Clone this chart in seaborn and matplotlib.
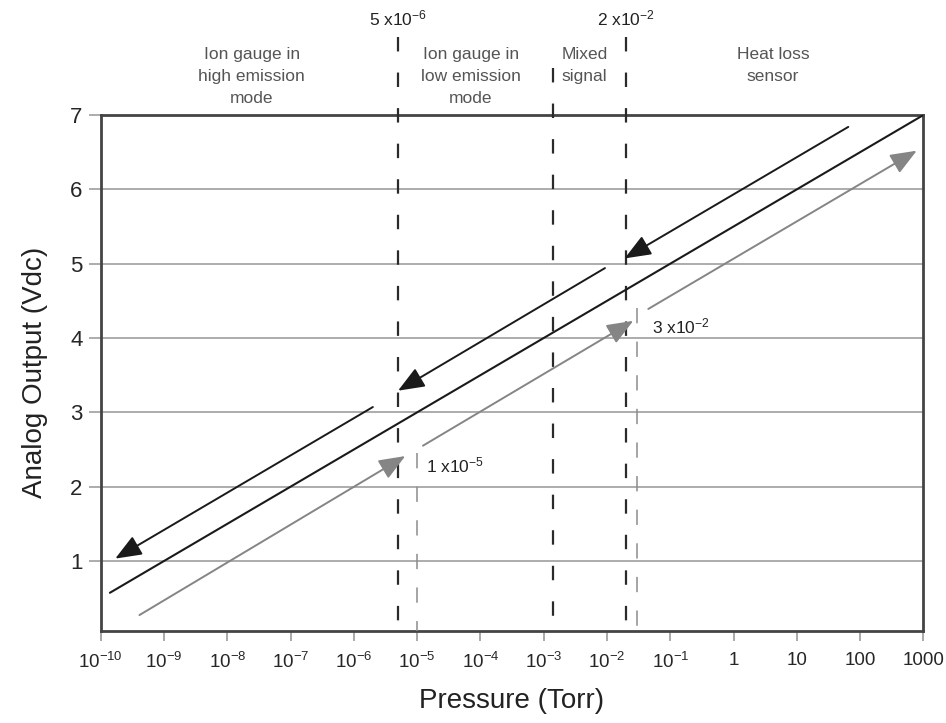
import numpy as np
import pandas as pd
import matplotlib
matplotlib.use("Agg")
import matplotlib.pyplot as plt
import seaborn as sns

# Decade ticks on the pressure axis
tick_pressures = [1e-10, 1e-9, 1e-8, 1e-7, 1e-6, 1e-5, 1e-4, 1e-3, 1e-2, 1e-1, 1, 10, 100, 1000]
tick_labels = ["$10^{-10}$", "$10^{-9}$", "$10^{-8}$", "$10^{-7}$", "$10^{-6}$", "$10^{-5}$",
               "$10^{-4}$", "$10^{-3}$", "$10^{-2}$", "$10^{-1}$", "1", "10", "100", "1000"]
voltage_ticks = [1, 2, 3, 4, 5, 6, 7]

# Nominal output curve (0.5 V per decade)
nominal_p = [1.4e-10, 1000.0]
nominal_v = [0.57, 7.0]

# Decreasing-pressure path (black, arrows pointing down)
down_start_p = [65.0, 9.3e-3, 2.0e-6]
down_start_v = [6.84, 4.94, 3.07]
down_end_p = [1.9e-2, 5.0e-6, 1.7e-10]
down_end_v = [5.07, 3.29, 1.03]

# Increasing-pressure path (gray, arrows pointing up)
up_start_p = [4.1e-10, 1.24e-5, 4.5e-2]
up_start_v = [0.27, 2.55, 4.39]
up_end_p = [6.5e-6, 2.6e-2, 785.0]
up_end_v = [2.41, 4.23, 6.52]

# Switch-over pressures
switch_p = [5e-6, 1.4e-3, 2e-2]
switch_top_v = [8.05, 7.63, 8.05]
switch_labels = {5e-6: "5 x10$^{-6}$", 2e-2: "2 x10$^{-2}$"}
return_p = [1e-5, 3e-2]
return_top_v = [2.45, 4.4]
return_labels = ["1 x10$^{-5}$", "3 x10$^{-2}$"]
return_label_v = [2.29, 4.15]
return_label_gap = [1.39, 1.72]

# Operating regions
region_names = ["Ion gauge in\nhigh emission\nmode", "Ion gauge in\nlow emission\nmode",
                "Mixed\nsignal", "Heat loss\nsensor"]
region_p = [2.45e-8, 7.1e-5, 4.4e-3, 4.2]

sns.set_theme(style="white")
plt.rcParams["font.family"] = ["Liberation Sans", "DejaVu Sans"]
plt.rcParams["mathtext.fontset"] = "custom"
plt.rcParams["mathtext.rm"] = "Liberation Sans"
plt.rcParams["mathtext.it"] = "Liberation Sans:italic"
plt.rcParams["mathtext.bf"] = "Liberation Sans:bold"

fig = plt.figure(figsize=(9.46, 7.23), dpi=100)
ax = fig.add_axes([0.1064, 0.1277, 0.8697, 0.7132])

ax.set_xscale("log")
ax.set_xlim(1e-10, 1000)
ax.set_ylim(0.06, 7)

# horizontal grid
for v in voltage_ticks[:-1]:
    ax.axhline(v, color="#a6a6a6", lw=1.3, zorder=1)

nominal = pd.DataFrame({"pressure": nominal_p, "voltage": nominal_v})
sns.lineplot(data=nominal, x="pressure", y="voltage", ax=ax, color="#1a1a1a", lw=1.5, zorder=4)

dark = "#1a1a1a"
grey = "#858585"
head = "-|>,head_length=0.85,head_width=0.34"
for sp, sv, ep, ev in zip(down_start_p, down_start_v, down_end_p, down_end_v):
    ax.annotate("", xy=(ep, ev), xytext=(sp, sv),
                arrowprops=dict(arrowstyle=head, mutation_scale=19, color=dark, lw=1.4,
                                shrinkA=0, shrinkB=0), zorder=5)
for sp, sv, ep, ev in zip(up_start_p, up_start_v, up_end_p, up_end_v):
    ax.annotate("", xy=(ep, ev), xytext=(sp, sv),
                arrowprops=dict(arrowstyle=head, mutation_scale=19, color=grey, lw=1.4,
                                shrinkA=0, shrinkB=0), zorder=5)

# dashed switch-over lines, drawn top-down so a dash starts at the upper end
for p, top in zip(switch_p, switch_top_v):
    ax.plot([p, p], [top, 0.06], color="#2a2a2a", lw=1.6, dashes=(6.5, 9.5),
            clip_on=False, zorder=3)
    if p in switch_labels:
        ax.text(p, 8.3, switch_labels[p], ha="center", va="center",
                fontsize=12.5, color="#222222", clip_on=False)
for p, top, lab, lv, gap in zip(return_p, return_top_v, return_labels,
                                return_label_v, return_label_gap):
    ax.plot([p, p], [top, 0.06], color="#8c8c8c", lw=1.1, dashes=(10, 12),
            clip_on=False, zorder=3)
    ax.text(p * gap, lv, lab, ha="left", va="center",
            fontsize=12.5, color="#222222")

for name, p in zip(region_names, region_p):
    ax.text(p, 7.91, name, ha="center", va="top", fontsize=12.5,
            color="#555555", linespacing=1.55, clip_on=False)

ax.set_xticks(tick_pressures)
ax.set_xticklabels(tick_labels)
ax.xaxis.set_minor_locator(matplotlib.ticker.NullLocator())
ax.set_yticks(voltage_ticks)
ax.tick_params(axis="x", direction="out", length=7, width=1.2, color="#9a9a9a",
               labelsize=13.5, pad=8, bottom=True)
ax.tick_params(axis="y", direction="out", length=9, width=1.3, color="#a6a6a6",
               labelsize=16, pad=4, left=True)

for s in ax.spines.values():
    s.set_color("#444444")
    s.set_linewidth(2.0)
    s.set_visible(True)

ax.set_xlabel("Pressure (Torr)", fontsize=20, labelpad=12, color="#222222")
ax.set_ylabel("Analog Output (Vdc)", fontsize=20, labelpad=16, color="#222222")

fig.savefig("out.png", dpi=100, facecolor="white")
